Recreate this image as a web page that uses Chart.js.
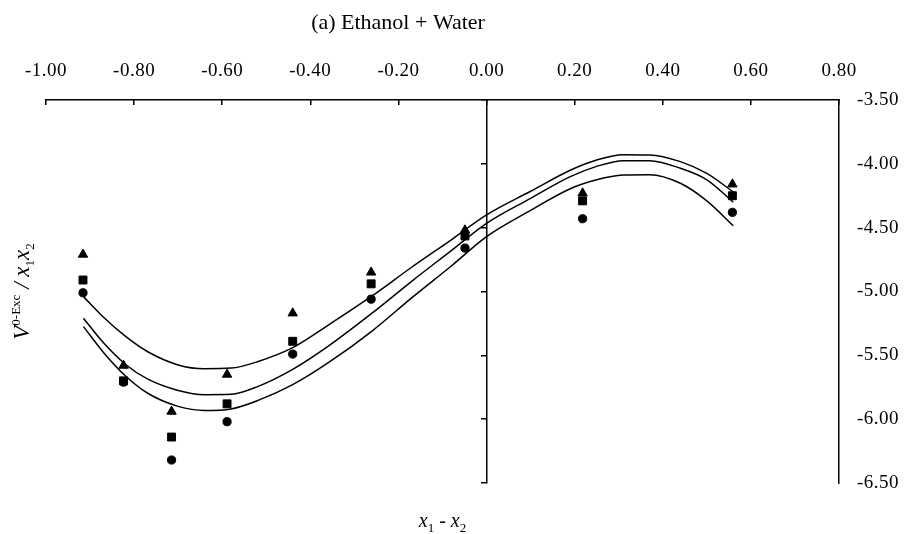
<!DOCTYPE html>
<html>
<head>
<meta charset="utf-8">
<script src="https://cdn.jsdelivr.net/npm/chart.js@4.4.1/dist/chart.umd.min.js"></script>
<style>
  html, body { margin: 0; padding: 0; background: #fff; }
  canvas { display: block; }
</style>
</head>
<body>
<canvas id="chart" width="906" height="534"></canvas>
<script>
const xTickValues = [-1.0, -0.8, -0.6, -0.4, -0.2, 0.0, 0.2, 0.4, 0.6, 0.8];
const yTickValues = [-6.5, -6.0, -5.5, -5.0, -4.5, -4.0, -3.5];

// measured points, x = x1 - x2
const pointX    = [-0.916, -0.824, -0.715, -0.589, -0.440, -0.262, -0.049, 0.218, 0.558];
const triangleY = [-4.71, -5.58, -5.94, -5.65, -5.17, -4.85, -4.52, -4.23, -4.16];
const squareY   = [-4.91, -5.70, -6.14, -5.88, -5.39, -4.94, -4.565, -4.29, -4.25];
const circleY   = [-5.01, -5.71, -6.32, -6.02, -5.49, -5.06, -4.66, -4.43, -4.38];

// fitted curves
const curveX    = [-0.915, -0.87, -0.82, -0.77, -0.70, -0.64, -0.58, -0.52, -0.44, -0.36, -0.26, -0.17, -0.08, 0.00, 0.10, 0.19, 0.25, 0.31, 0.37, 0.44, 0.50, 0.56];
const fitUpper  = [-5.04, -5.20, -5.35, -5.47, -5.575, -5.605, -5.60, -5.55, -5.44, -5.265, -5.035, -4.81, -4.595, -4.40, -4.215, -4.05, -3.97, -3.928, -3.93, -3.983, -4.075, -4.22];
const fitMiddle = [-5.21, -5.40, -5.57, -5.685, -5.775, -5.808, -5.805, -5.745, -5.61, -5.43, -5.17, -4.92, -4.68, -4.466, -4.27, -4.10, -4.02, -3.975, -3.975, -4.035, -4.125, -4.30];
const fitLower  = [-5.275, -5.475, -5.66, -5.795, -5.90, -5.932, -5.92, -5.855, -5.73, -5.56, -5.31, -5.05, -4.80, -4.57, -4.365, -4.195, -4.125, -4.088, -4.085, -4.152, -4.29, -4.485];

const FONT = '"Liberation Serif", "Times New Roman", serif';

function toXY(xs, ys) {
    return xs.map((x, i) => ({ x: x, y: ys[i] }));
}

function markerSet(label, ys, style, radius) {
    return {
        label: label,
        data: toXY(pointX, ys),
        pointStyle: style,
        pointRadius: radius,
        backgroundColor: '#000',
        borderColor: '#000',
        borderWidth: 1,
        showLine: false
    };
}

function curveSet(label, ys) {
    return {
        label: label,
        data: toXY(curveX, ys),
        showLine: true,
        pointRadius: 0,
        borderColor: '#000',
        borderWidth: 1.5,
        fill: false,
        cubicInterpolationMode: 'monotone'
    };
}

// draw a run of text pieces (for sub/superscripts)
function drawRich(ctx, parts, x, y) {
    let total = 0;
    parts.forEach(p => {
        ctx.font = p.font;
        p.w = ctx.measureText(p.t).width;
        total += p.w;
    });
    let cx = x - total / 2;
    parts.forEach(p => {
        ctx.font = p.font;
        ctx.fillText(p.t, cx, y + (p.dy || 0));
        cx += p.w;
    });
}

const textPlugin = {
    id: 'textPlugin',
    beforeDraw(chart) {
        chart.ctx.letterSpacing = '0.5px';
    },
    afterDraw(chart) {
        const ctx = chart.ctx;
        const area = chart.chartArea;
        ctx.save();
        ctx.letterSpacing = '0px';
        ctx.fillStyle = '#000';
        ctx.textBaseline = 'alphabetic';
        ctx.textAlign = 'left';

        // title
        drawRich(ctx, [{ t: '(a) Ethanol + Water', font: '22px ' + FONT }], 398, 29);

        // x axis title
        const it = 'italic 20px ' + FONT;
        const sub = '13px ' + FONT;
        drawRich(ctx, [
            { t: 'x', font: it }, { t: '1', font: sub, dy: 5 },
            { t: ' - ', font: '20px ' + FONT },
            { t: 'x', font: it }, { t: '2', font: sub, dy: 5 }
        ], (area.left + area.right) / 2, area.bottom + 44);

        // y axis title
        ctx.translate(29, (area.top + area.bottom) / 2);
        ctx.rotate(-Math.PI / 2);
        const it2 = 'italic 23px ' + FONT;
        const small = '13px ' + FONT;
        drawRich(ctx, [
            { t: 'V', font: it2 }, { t: '0-Exc', font: small, dy: -9 },
            { t: ' / ', font: it2 },
            { t: 'x', font: it2 }, { t: '1', font: small, dy: 5 },
            { t: 'x', font: it2 }, { t: '2', font: small, dy: 5 }
        ], 0, 0);
        ctx.restore();
    }
};

const chart = new Chart(document.getElementById('chart'), {
    type: 'scatter',
    data: {
        datasets: [
            curveSet('fit upper', fitUpper),
            curveSet('fit middle', fitMiddle),
            curveSet('fit lower', fitLower),
            markerSet('triangles', triangleY, 'triangle', 5.4),
            markerSet('squares', squareY, 'rect', 5.6),
            markerSet('circles', circleY, 'circle', 4.1)
        ]
    },
    options: {
        responsive: false,
        animation: false,
        devicePixelRatio: 1,
        layout: { padding: { left: 46, right: 0, top: 0, bottom: 51 } },
        plugins: {
            legend: { display: false },
            tooltip: { enabled: false },
            title: { display: false }
        },
        scales: {
            x: {
                type: 'linear',
                position: 'top',
                min: -1.0,
                max: 0.8,
                afterBuildTicks: s => { s.ticks = xTickValues.map(v => ({ value: v })); },
                afterFit: s => { s.height = 100; },
                ticks: {
                    color: '#000',
                    font: { family: FONT, size: 19 },
                    padding: 18,
                    maxRotation: 0,
                    autoSkip: false,
                    callback: v => v.toFixed(2)
                },
                grid: { display: false, drawTicks: false, tickLength: 0 },
                border: { display: true, color: '#000', width: 1.5 }
            },
            y: {
                type: 'linear',
                position: 'right',
                min: -6.5,
                max: -3.5,
                afterBuildTicks: s => { s.ticks = yTickValues.map(v => ({ value: v })); },
                afterFit: s => { s.width = 67; },
                ticks: {
                    color: '#000',
                    font: { family: FONT, size: 19 },
                    padding: 18,
                    autoSkip: false,
                    callback: v => v.toFixed(2)
                },
                grid: { display: false, drawTicks: false, tickLength: 0 },
                border: { display: true, color: '#000', width: 1.5 }
            },
            xTicks: {
                axis: 'x',
                type: 'linear',
                position: { y: -3.5 },
                min: -1.0,
                max: 0.8,
                afterBuildTicks: s => { s.ticks = xTickValues.map(v => ({ value: v })); },
                ticks: { display: false },
                grid: { display: true, drawOnChartArea: false, drawTicks: true, tickLength: 5, color: '#000', lineWidth: 1.5 },
                border: { display: false }
            },
            yTicks: {
                axis: 'y',
                type: 'linear',
                position: { x: 0 },
                min: -6.5,
                max: -3.5,
                afterBuildTicks: s => { s.ticks = yTickValues.map(v => ({ value: v })); },
                ticks: { display: false },
                grid: { display: true, drawOnChartArea: false, drawTicks: true, tickLength: 5, color: '#000', lineWidth: 1.5 },
                border: { display: true, color: '#000', width: 1.5 }
            }
        }
    },
    plugins: [textPlugin]
});
</script>
</body>
</html>
